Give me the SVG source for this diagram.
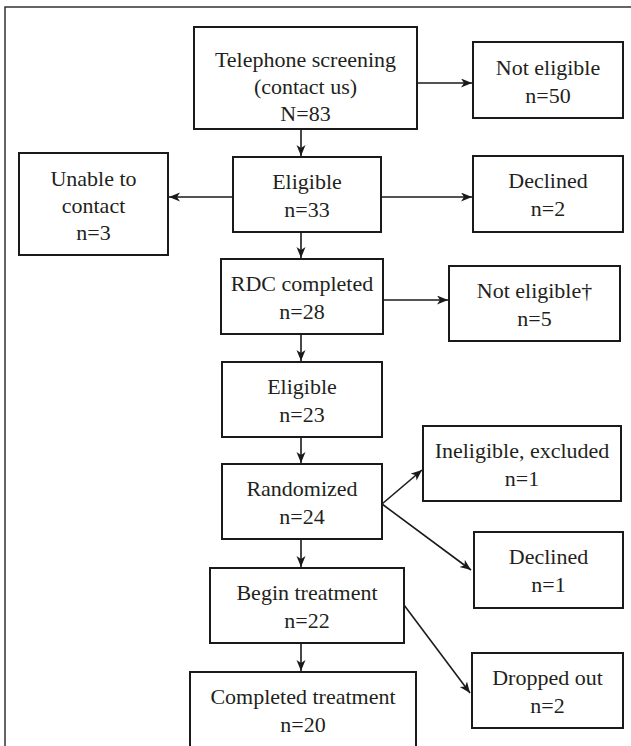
<svg xmlns="http://www.w3.org/2000/svg" width="631" height="746" viewBox="0 0 631 746">
<defs>
<style>
.box{fill:#fff;stroke:#1a1a1a;stroke-width:2}
.t{font-family:"Liberation Serif","Times New Roman",serif;font-size:22px;fill:#231f20;text-anchor:middle}
.c{fill:none;stroke:#1a1a1a;stroke-width:1.6}
.frame{fill:none;stroke:#333;stroke-width:1.5}
</style>
<marker id="ah" markerUnits="userSpaceOnUse" markerWidth="12" markerHeight="10" refX="11" refY="4.5" orient="auto">
<path d="M0,0 L11,4.5 L0,9 L3,4.5 z" fill="#1a1a1a"/>
</marker>
</defs>
<rect width="631" height="746" fill="#fff"/>
<path class="frame" d="M5,746 V7 H631"/>
<g id="connectors">
<line class="c" x1="417" y1="83" x2="472" y2="83" marker-end="url(#ah)"/>
<line class="c" x1="301" y1="129" x2="301" y2="156" marker-end="url(#ah)"/>
<line class="c" x1="233" y1="197" x2="169" y2="197" marker-end="url(#ah)"/>
<line class="c" x1="381" y1="197" x2="472" y2="197" marker-end="url(#ah)"/>
<line class="c" x1="301" y1="232" x2="301" y2="258" marker-end="url(#ah)"/>
<line class="c" x1="383" y1="300" x2="448" y2="300" marker-end="url(#ah)"/>
<line class="c" x1="301" y1="334" x2="301" y2="361" marker-end="url(#ah)"/>
<line class="c" x1="301" y1="437" x2="301" y2="463" marker-end="url(#ah)"/>
<line class="c" x1="382" y1="504" x2="422" y2="470" marker-end="url(#ah)"/>
<line class="c" x1="382" y1="504" x2="471" y2="570" marker-end="url(#ah)"/>
<line class="c" x1="301" y1="539" x2="301" y2="567" marker-end="url(#ah)"/>
<line class="c" x1="404" y1="605" x2="470" y2="693" marker-end="url(#ah)"/>
<line class="c" x1="301" y1="643" x2="301" y2="671" marker-end="url(#ah)"/>
</g>
<g id="telephone">
<rect class="box" x="194" y="27" width="223" height="102"/>
<text class="t" x="305.5" y="67">Telephone screening</text>
<text class="t" x="305.5" y="94">(contact us)</text>
<text class="t" x="305.5" y="121">N=83</text>
</g>
<g id="not-eligible-50">
<rect class="box" x="473" y="42" width="150" height="76"/>
<text class="t" x="548" y="75">Not eligible</text>
<text class="t" x="548" y="103">n=50</text>
</g>
<g id="unable">
<rect class="box" x="19" y="153" width="149" height="102"/>
<text class="t" x="93.5" y="186">Unable to</text>
<text class="t" x="93.5" y="213">contact</text>
<text class="t" x="93.5" y="240">n=3</text>
</g>
<g id="eligible-33">
<rect class="box" x="233" y="157" width="148" height="75"/>
<text class="t" x="307" y="189">Eligible</text>
<text class="t" x="307" y="217">n=33</text>
</g>
<g id="declined-2">
<rect class="box" x="473" y="156" width="150" height="76"/>
<text class="t" x="548" y="188">Declined</text>
<text class="t" x="548" y="216">n=2</text>
</g>
<g id="rdc">
<rect class="box" x="221" y="259" width="162" height="75"/>
<text class="t" x="302" y="291">RDC completed</text>
<text class="t" x="302" y="319">n=28</text>
</g>
<g id="not-eligible-5">
<rect class="box" x="449" y="266" width="171" height="75"/>
<text class="t" x="534.5" y="298">Not eligible†</text>
<text class="t" x="534.5" y="326">n=5</text>
</g>
<g id="eligible-23">
<rect class="box" x="222" y="362" width="160" height="75"/>
<text class="t" x="302" y="394">Eligible</text>
<text class="t" x="302" y="422">n=23</text>
</g>
<g id="ineligible">
<rect class="box" x="423" y="426" width="198" height="75"/>
<text class="t" x="522" y="458">Ineligible, excluded</text>
<text class="t" x="522" y="486">n=1</text>
</g>
<g id="randomized">
<rect class="box" x="222" y="464" width="160" height="75"/>
<text class="t" x="302" y="496">Randomized</text>
<text class="t" x="302" y="524">n=24</text>
</g>
<g id="declined-1">
<rect class="box" x="474" y="532" width="149" height="76"/>
<text class="t" x="548.5" y="564">Declined</text>
<text class="t" x="548.5" y="592">n=1</text>
</g>
<g id="begin">
<rect class="box" x="210" y="568" width="194" height="75"/>
<text class="t" x="307" y="600">Begin treatment</text>
<text class="t" x="307" y="628">n=22</text>
</g>
<g id="dropped">
<rect class="box" x="472" y="653" width="151" height="75"/>
<text class="t" x="547.5" y="685">Dropped out</text>
<text class="t" x="547.5" y="713">n=2</text>
</g>
<g id="completed">
<rect class="box" x="190" y="672" width="226" height="80"/>
<text class="t" x="303" y="704">Completed treatment</text>
<text class="t" x="303" y="732">n=20</text>
</g>
</svg>
